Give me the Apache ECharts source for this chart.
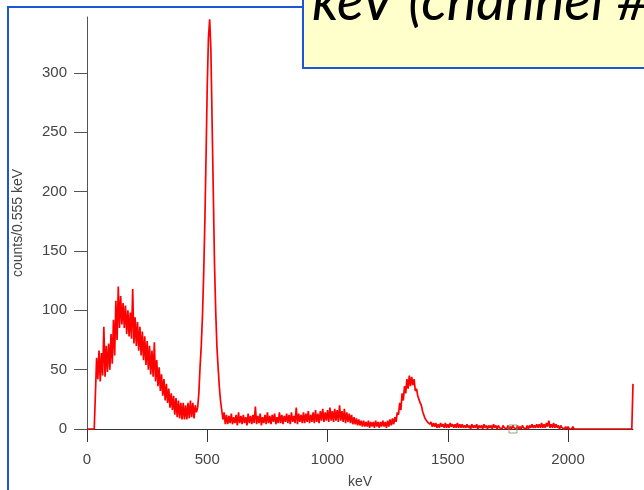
<!DOCTYPE html>
<html>
<head>
<meta charset="utf-8">
<script src="https://cdn.jsdelivr.net/npm/echarts@6/dist/echarts.min.js"></script>
<style>
  html, body { margin: 0; padding: 0; background: #fff; }
  #container { width: 644px; height: 490px; }
</style>
</head>
<body>
<div id="container"></div>
<script>
// spectrum, one entry per 10 keV (0 .. 2260 keV)
// bandTop = upper edge of the noisy band at E, bandBottom = lower edge at E + 5 keV
var binWidth = 10;
var bandTop = [
    0, 0, 0, 0, 60, 66, 64, 86, 70, 72,
    80, 92, 108, 120, 112, 106, 104, 100, 98, 118,
    94, 90, 86, 82, 78, 74, 70, 66, 73, 58,
    52, 46, 42, 38, 34, 30, 28, 26, 24, 22,
    22, 20, 22, 24, 22, 20, 18, 52, 95, 175,
    290, 345, 260, 140, 70, 36, 16, 14, 12, 11,
    13, 10, 12, 14, 11, 12, 10, 13, 11, 12,
    19, 11, 13, 10, 12, 14, 11, 12, 13, 10,
    14, 12, 11, 13, 12, 14, 11, 18, 13, 12,
    14, 13, 15, 12, 14, 16, 13, 15, 17, 14,
    16, 18, 15, 17, 16, 20, 15, 17, 14, 13,
    12, 10, 9, 8, 7, 7, 6, 7, 6, 6,
    7, 6, 6, 7, 6, 7, 8, 9, 10, 14,
    22, 30, 36, 42, 45, 44, 42, 34, 28, 20,
    14, 9, 7, 6, 5, 5, 4, 5, 4, 5,
    4, 5, 4, 4, 5, 4, 4, 3, 4, 3,
    4, 3, 4, 3, 3, 4, 3, 3, 3, 4,
    3, 3, 2, 3, 2, 3, 2, 3, 2, 3,
    2, 3, 2, 3, 3, 4, 3, 4, 4, 5,
    4, 5, 7, 4, 5, 4, 3, 3, 2, 2,
    2, 1, 2, 1, 1, 1, 1, 1, 1, 1,
    1, 1, 1, 0, 1, 1, 0, 1, 0, 1,
    0, 1, 0, 1, 0, 0, 0
];
var bandBottom = [
    0, 0, 0, 0, 42, 40, 45, 44, 48, 50,
    55, 62, 75, 85, 88, 85, 80, 78, 76, 72,
    70, 66, 62, 58, 54, 50, 46, 44, 40, 36,
    32, 28, 24, 22, 18, 16, 12, 10, 9, 8,
    8, 8, 9, 10, 9, 14, 30, 70, 130, 230,
    330, 320, 200, 100, 52, 24, 8, 4, 4, 5,
    4, 5, 3, 5, 4, 5, 3, 5, 4, 5,
    4, 5, 3, 5, 4, 5, 4, 6, 4, 5,
    5, 4, 6, 5, 4, 6, 5, 4, 6, 5,
    5, 6, 5, 6, 5, 6, 5, 7, 6, 7,
    6, 7, 6, 7, 6, 7, 6, 5, 6, 5,
    4, 4, 3, 3, 2, 2, 2, 1, 2, 1,
    2, 1, 2, 2, 1, 2, 3, 4, 6, 12,
    16, 24, 30, 34, 36, 37, 32, 28, 22, 15,
    9, 6, 4, 2, 2, 1, 1, 2, 1, 1,
    1, 2, 1, 1, 1, 1, 1, 1, 1, 0,
    1, 1, 0, 1, 0, 1, 0, 1, 0, 1,
    0, 1, 0, 1, 0, 0, 0, 1, 0, 0,
    0, 1, 0, 0, 1, 1, 1, 1, 1, 1,
    1, 2, 1, 1, 1, 1, 0, 1, 0, 0,
    0, 0, 0, 0, 0, 0, 0, 0, 0, 0,
    0, 0, 0, 0, 0, 0, 0, 0, 0, 0,
    0, 0, 0, 0, 0, 0, 0
];
var lastChannel = [2270, 38];   // overflow channel at the right end
var cursorB = [1771, 0];        // square cursor on the axis

var xTicks = [0, 500, 1000, 1500, 2000];
var yTicks = [0, 50, 100, 150, 200, 250, 300];
var xMax = 2270;
var yMax = 347;

var spectrum = [];
for (var i = 0; i < bandTop.length; i++) {
    spectrum.push([i * binWidth, bandTop[i]]);
    spectrum.push([i * binWidth + binWidth / 2, bandBottom[i]]);
}
spectrum.push(lastChannel);

var dom = document.getElementById('container');
var myChart = echarts.init(dom);

var labelFont = 'Liberation Sans, Arial, sans-serif';

function plain(v) {
    return String(v);
}

var option = {
    animation: false,
    backgroundColor: '#fff',
    grid: {
        left: 87,
        right: 11,
        top: 17,
        bottom: 61,
        outerBoundsMode: 'none'
    },
    xAxis: {
        type: 'value',
        min: 0,
        max: xMax,
        name: 'keV',
        nameLocation: 'middle',
        nameGap: 46,
        nameTextStyle: { color: '#444', fontSize: 14, fontFamily: labelFont },
        splitLine: { show: false },
        axisLine: { lineStyle: { color: '#333', width: 1 } },
        axisTick: { length: 13, customValues: xTicks, lineStyle: { color: '#333' } },
        axisLabel: {
            customValues: xTicks,
            formatter: plain,
            margin: 23,
            color: '#444',
            fontSize: 15,
            fontFamily: labelFont
        }
    },
    yAxis: {
        type: 'value',
        min: 0,
        max: yMax,
        name: 'counts/0.555 keV',
        nameLocation: 'middle',
        nameGap: 62,
        nameTextStyle: { color: '#444', fontSize: 14, fontFamily: labelFont },
        splitLine: { show: false },
        axisLine: { show: true, lineStyle: { color: '#555', width: 1 } },
        axisTick: { show: true, length: 13, customValues: yTicks, lineStyle: { color: '#555' } },
        axisLabel: {
            customValues: yTicks,
            formatter: plain,
            margin: 20,
            color: '#444',
            fontSize: 15,
            fontFamily: labelFont
        }
    },
    series: [
        {
            name: 'spectrum',
            type: 'line',
            data: spectrum,
            showSymbol: false,
            lineStyle: { color: '#ff0000', width: 1.7 },
            z: 3
        },
        {
            name: 'cursor',
            type: 'scatter',
            data: [cursorB],
            symbol: 'rect',
            symbolSize: 8,
            itemStyle: { color: 'rgba(0,0,0,0)', borderColor: '#6f9a6a', borderWidth: 1 },
            z: 4
        }
    ],
    graphic: [
        {
            type: 'rect',
            shape: { x: 8, y: 7, width: 700, height: 600 },
            style: { fill: null, stroke: '#1c55d6', lineWidth: 2 },
            z: 10
        },
        {
            type: 'rect',
            shape: { x: 303, y: -60, width: 400, height: 128 },
            style: { fill: '#ffffcc', stroke: '#1c55d6', lineWidth: 2 },
            z: 11
        },
        {
            type: 'text',
            x: 312,
            y: 2,
            style: {
                text: 'keV (channel #',
                fill: '#000',
                font: 'italic 56px Lato, "Open Sans", sans-serif',
                verticalAlign: 'middle'
            },
            z: 12
        }
    ]
};

if (option && typeof option === 'object') {
    myChart.setOption(option, true);
}
</script>
</body>
</html>
